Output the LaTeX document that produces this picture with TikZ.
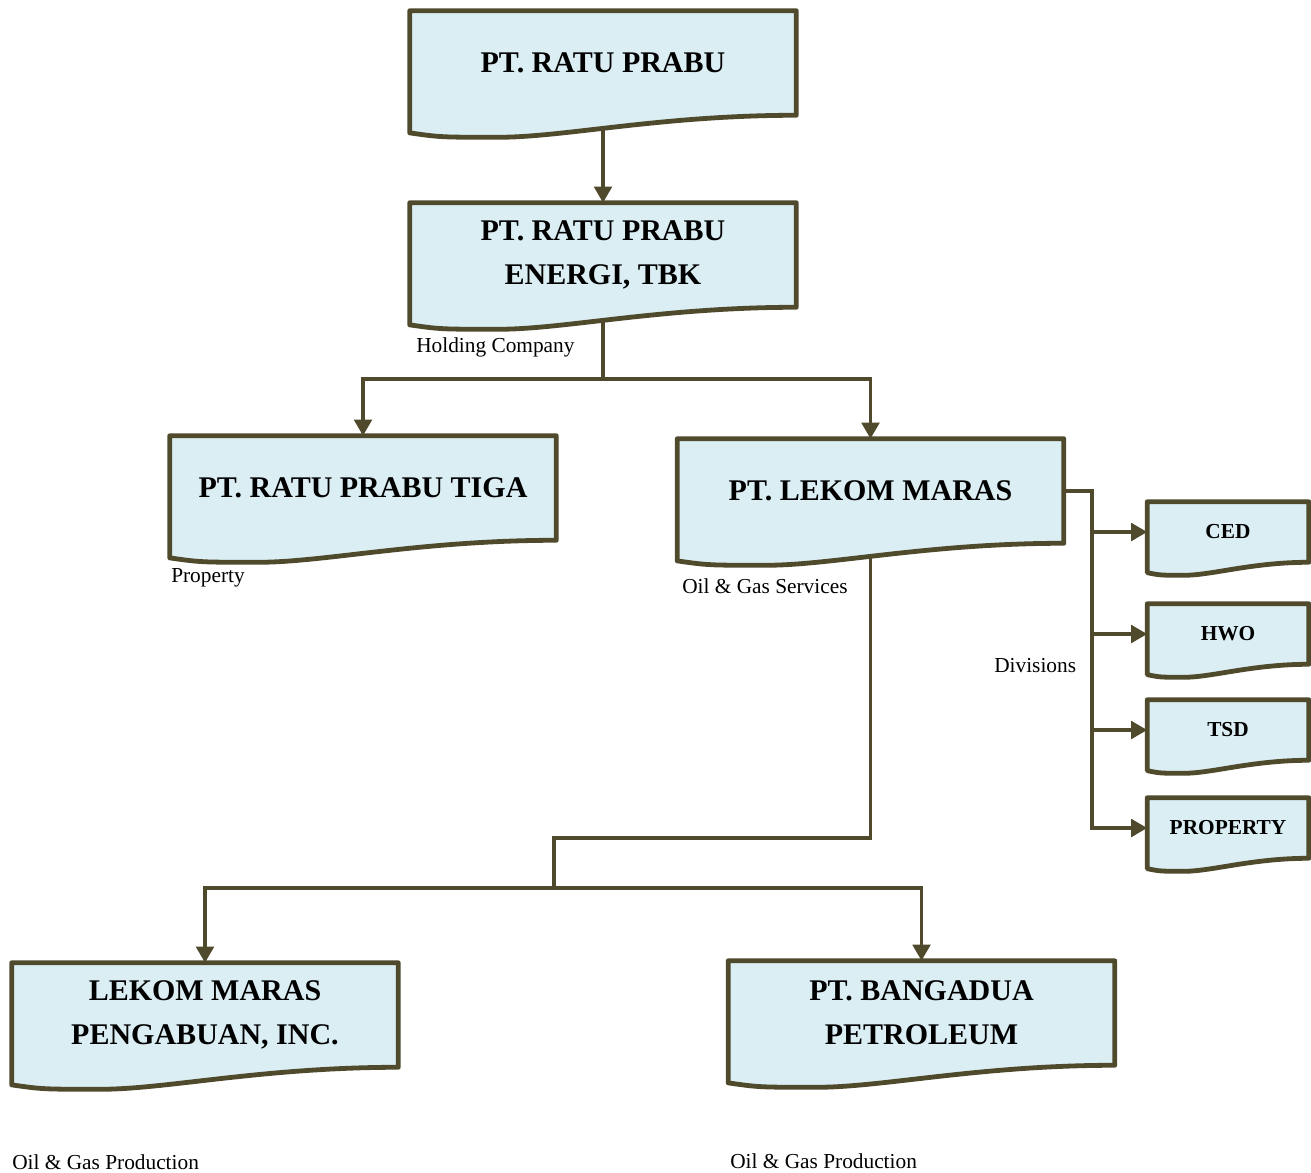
\documentclass[tikz,border=0pt]{standalone}
\usepackage{fontspec}
\setmainfont{Liberation Serif}
\usetikzlibrary{arrows.meta,calc}
\definecolor{boxline}{HTML}{4F4A2C}
\definecolor{boxfill}{HTML}{DBEEF4}
\pgfdeclarelayer{lines}
\pgfdeclarelayer{background}
\pgfsetlayers{lines,background,main}
\tikzset{
  bigdoc/.style={inner sep=0pt, minimum width=289.5pt, minimum height=78pt, align=center,
    font=\bfseries\fontsize{22.5}{33}\selectfont},
  smalldoc/.style={inner sep=0pt, minimum width=120.75pt, minimum height=45pt, align=center,
    font=\bfseries\fontsize{16}{19}\selectfont},
  note/.style={anchor=west, inner sep=0pt, font=\fontsize{16}{19}\selectfont},
  docline/.style={draw=boxline, fill=boxfill, line width=3.6pt, line join=round},
  conn/.style={draw=boxline, line width=2.9pt},
  arr/.style={conn, -{Triangle[length=12pt,width=13pt]}},
}
\begin{document}
\begin{tikzpicture}[x=0.75pt, y=-0.75pt]
        \useasboundingbox (0,0) rectangle (1311,1172);
        % Define the nodes for the companies
        \node[bigdoc]   (ratu)      at (603,63)     {PT. RATU PRABU};
        \node[bigdoc]   (energi)    at (603,255)    {PT. RATU PRABU\\ENERGI, TBK};
        \node[bigdoc]   (tiga)      at (363,488)    {PT. RATU PRABU TIGA};
        \node[bigdoc]   (lekom)     at (870.5,491)  {PT. LEKOM MARAS};
        \node[bigdoc]   (pengabuan) at (205,1015)   {LEKOM MARAS\\PENGABUAN, INC.};
        \node[bigdoc]   (bangadua)  at (921.5,1013) {PT. BANGADUA\\PETROLEUM};
        % Define the nodes for the divisions
        \node[smalldoc] (ced)  at (1228,532) {CED};
        \node[smalldoc] (hwo)  at (1228,634) {HWO};
        \node[smalldoc] (tsd)  at (1228,730) {TSD};
        \node[smalldoc] (prop) at (1228,828) {PROPERTY};
        % Define the labels
        \node[note] (lblenergi) at (416,347)  {Holding Company};
        \node[note] (lbltiga)   at (171,578)  {Property};
        \node[note] (lbllekom)  at (682,586)  {Oil \& Gas Services};
        \node[note] (lbldiv)    at (994,666)  {Divisions};
        \node[note] (lblpeng)   at (12,1162)  {Oil \& Gas Production};
        \node[note] (lblbang)   at (730,1161) {Oil \& Gas Production};
        % Draw the document outlines
        \begin{pgfonlayer}{background}
        \foreach \n/\d in {ratu/22, energi/22, tiga/22, lekom/22, pengabuan/22, bangadua/22,
                           ced/13, hwo/13, tsd/13, prop/13}
          \draw[docline] (\n.north west) -- (\n.north east) -- (\n.south east)
            .. controls ($(\n.south east)!0.35!(\n.south west)$)
                    and ($(\n.south east)!0.6!(\n.south west)+(0,\d)$)
            .. ($(\n.south east)!0.77!(\n.south west)+(0,\d)$)
            .. controls ($(\n.south east)!0.92!(\n.south west)+(0,\d)$)
            .. ($(\n.south west)+(0,0.8*\d)$) -- cycle;
        \end{pgfonlayer}
        % Connect the nodes
        \begin{pgfonlayer}{lines}
        \coordinate (hub)    at (603,379);
        \coordinate (divbar) at (1092,830);
        \coordinate (bend)   at (554,838);
        \coordinate (fork)   at (554,888);
        \draw[arr]  (ratu.south) -- (energi.north);
        \draw[conn] (energi.south) -- (hub);
        \draw[arr]  (hub) -| (tiga.north);
        \draw[arr]  (hub) -| (lekom.north);
        \draw[conn] (lekom.east) -| (divbar);
        \foreach \n in {ced,hwo,tsd,prop}
          \draw[arr] (divbar |- \n.west) -- (\n.west);
        \draw[conn] (lekom.south) |- (bend) -- (fork);
        \draw[arr]  (fork) -| (pengabuan.north);
        \draw[arr]  (fork) -| (bangadua.north);
        \end{pgfonlayer}
\end{tikzpicture}
\end{document}
